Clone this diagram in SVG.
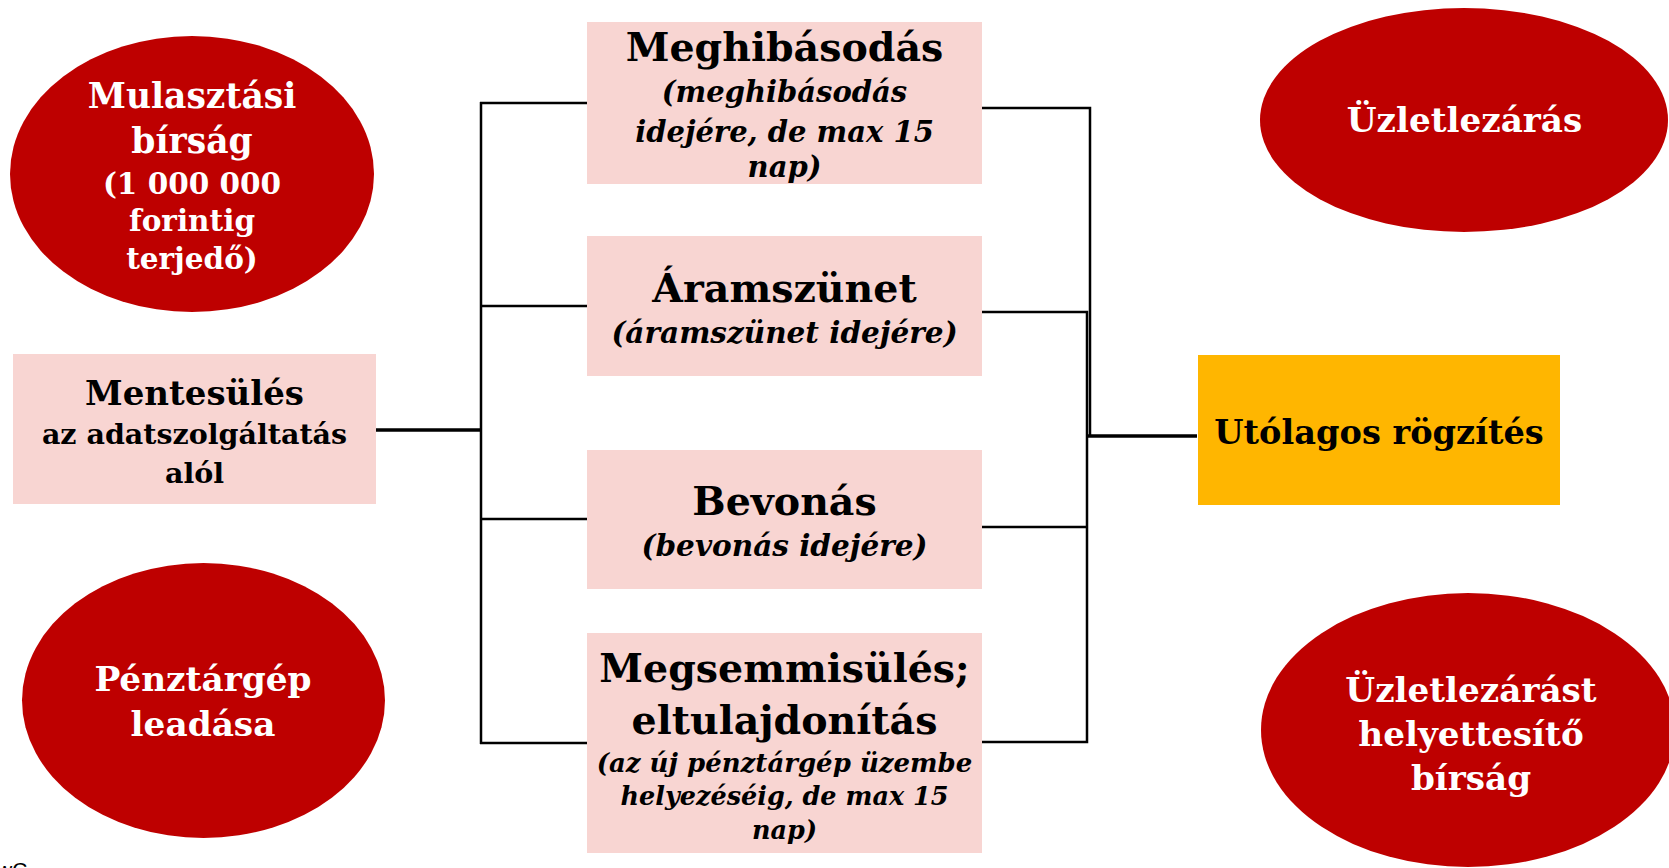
<svg xmlns="http://www.w3.org/2000/svg" width="1669" height="868" viewBox="0 0 1669 868">
<style>
.red{fill:#BE0000}
.pink{fill:#F8D5D2}
.amber{fill:#FFB600}
.t{font-family:"DejaVu Serif","Liberation Serif",serif;font-weight:bold;text-anchor:middle}
.w{fill:#FFFFFF}
.k{fill:#000000}
.i{font-style:italic}
.ln{fill:none;stroke:#000;stroke-width:2.5}
.lnb{fill:none;stroke:#000;stroke-width:3.5}
</style>
<rect width="1669" height="868" fill="#FFFFFF"/>

<g id="connectors">
  <line class="lnb" x1="376" y1="430" x2="481" y2="430"/>
  <line class="ln" x1="481" y1="102" x2="481" y2="744"/>
  <line class="ln" x1="480" y1="103" x2="587" y2="103"/>
  <line class="ln" x1="480" y1="306" x2="587" y2="306"/>
  <line class="ln" x1="480" y1="519" x2="587" y2="519"/>
  <line class="ln" x1="480" y1="743" x2="587" y2="743"/>
  <polyline class="ln" points="982,108 1090,108 1090,437"/>
  <polyline class="ln" points="982,312 1087,312 1087,742 982,742"/>
  <line class="ln" x1="982" y1="527" x2="1087" y2="527"/>
  <line class="lnb" x1="1087" y1="436" x2="1197" y2="436"/>
</g>

<g id="mulasztasi">
  <ellipse class="red" cx="192" cy="174" rx="182" ry="138"/>
  <text class="t w" x="192" y="108" font-size="34.5">Mulasztási</text>
  <text class="t w" x="192" y="153" font-size="34.5">bírság</text>
  <text class="t w" x="192" y="194" font-size="29.5">(1 000 000</text>
  <text class="t w" x="192" y="231" font-size="29.5">forintig</text>
  <text class="t w" x="192" y="269" font-size="29.5">terjedő)</text>
</g>

<g id="mentesules">
  <rect class="pink" x="13" y="354" width="363" height="150"/>
  <text class="t k" x="194.5" y="405" font-size="34">Mentesülés</text>
  <text class="t k" x="194.5" y="444" font-size="28.5">az adatszolgáltatás</text>
  <text class="t k" x="194.5" y="483" font-size="28.5">alól</text>
</g>

<g id="penztargep">
  <ellipse class="red" cx="203.5" cy="700.5" rx="181.5" ry="137.5"/>
  <text class="t w" x="203" y="691" font-size="34.3">Pénztárgép</text>
  <text class="t w" x="203" y="736" font-size="34.3">leadása</text>
</g>

<g id="meghibasodas">
  <rect class="pink" x="587" y="22" width="395" height="162"/>
  <text class="t k" x="784.5" y="61" font-size="39.5">Meghibásodás</text>
  <text class="t k i" x="784.5" y="102" font-size="29">(meghibásodás</text>
  <text class="t k i" x="784.5" y="142" font-size="29">idejére, de max 15</text>
  <text class="t k i" x="784.5" y="177" font-size="29">nap)</text>
</g>

<g id="aramszunet">
  <rect class="pink" x="587" y="236" width="395" height="140"/>
  <text class="t k" x="784.5" y="302" font-size="39.5">Áramszünet</text>
  <text class="t k i" x="784.5" y="343" font-size="29.5">(áramszünet idejére)</text>
</g>

<g id="bevonas">
  <rect class="pink" x="587" y="450" width="395" height="139"/>
  <text class="t k" x="784.5" y="515" font-size="39.5">Bevonás</text>
  <text class="t k i" x="784.5" y="556" font-size="29.5">(bevonás idejére)</text>
</g>

<g id="megsemmisules">
  <rect class="pink" x="587" y="633" width="395" height="220"/>
  <text class="t k" x="784.5" y="682" font-size="39.5">Megsemmisülés;</text>
  <text class="t k" x="784.5" y="734" font-size="39.5">eltulajdonítás</text>
  <text class="t k i" x="784.5" y="772" font-size="26">(az új pénztárgép üzembe</text>
  <text class="t k i" x="784.5" y="805" font-size="25.5">helyezéséig, de max 15</text>
  <text class="t k i" x="784.5" y="839" font-size="25.5">nap)</text>
</g>

<g id="utolagos">
  <rect class="amber" x="1198" y="355" width="362" height="150"/>
  <text class="t k" x="1379" y="444" font-size="33.6">Utólagos rögzítés</text>
</g>

<g id="uzletlezaras">
  <ellipse class="red" cx="1464" cy="120" rx="204" ry="112"/>
  <text class="t w" x="1464.5" y="132" font-size="34.2">Üzletlezárás</text>
</g>

<g id="helyettesito">
  <ellipse class="red" cx="1468" cy="730" rx="207" ry="137"/>
  <text class="t w" x="1471" y="702" font-size="34.2">Üzletlezárást</text>
  <text class="t w" x="1471" y="746" font-size="34.2">helyettesítő</text>
  <text class="t w" x="1471" y="790" font-size="34.2">bírság</text>
</g>

<text x="-3" y="877" font-family="Liberation Sans, Arial, sans-serif" font-size="21" fill="#000">wC</text>
</svg>
